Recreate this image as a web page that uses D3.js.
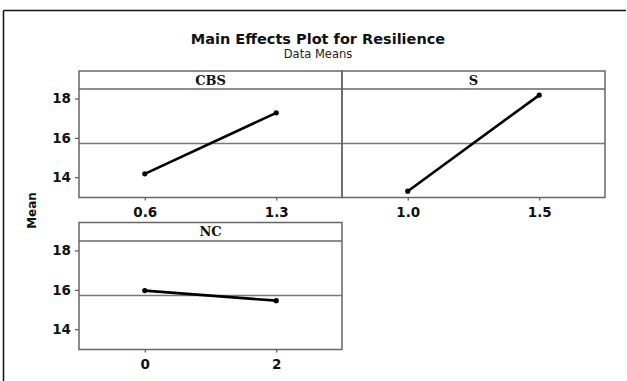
<!DOCTYPE html>
<html>
<head>
<meta charset="utf-8">
<script src="https://cdn.jsdelivr.net/npm/d3@7"></script>
<style>
  html, body { margin: 0; padding: 0; background: #fff; }
  svg { display: block; }
  .tick text { font-family: "DejaVu Sans", sans-serif; font-weight: bold; font-size: 13.5px; fill: #111; }
  .tick line { stroke: #555; stroke-width: 1.2; }
</style>
</head>
<body>
<script>
// Main effects of each factor on Resilience (data means)
const factors = ["CBS", "S", "NC"];
const cbsLevels = ["0.6", "1.3"];
const sLevels = ["1.0", "1.5"];
const ncLevels = ["0", "2"];
const cbsMeans = [14.17, 17.27];
const sMeans = [13.29, 18.17];
const ncMeans = [15.96, 15.45];
const grandMean = 15.71;
const yTicks = [14, 16, 18];
const yDomain = [12.97, 18.48];

const levels = { CBS: cbsLevels, S: sLevels, NC: ncLevels };
const means = { CBS: cbsMeans, S: sMeans, NC: ncMeans };

const W = 627, H = 381;
const svg = d3.select("body").append("svg").attr("width", W).attr("height", H);

// frame: top and left edges only
svg.append("line").attr("x1", 3.5).attr("x2", 626).attr("y1", 10.5).attr("y2", 10.5)
  .attr("stroke", "#111").attr("stroke-width", 1.5);
svg.append("line").attr("x1", 3.5).attr("x2", 3.5).attr("y1", 10.5).attr("y2", H)
  .attr("stroke", "#111").attr("stroke-width", 1.5);

svg.append("text").attr("x", 318).attr("y", 43.5).attr("text-anchor", "middle")
  .style("font-family", "DejaVu Sans, sans-serif").style("font-weight", "bold")
  .style("font-size", "14.5px").attr("fill", "#111")
  .text("Main Effects Plot for Resilience");
svg.append("text").attr("x", 318).attr("y", 57.5).attr("text-anchor", "middle")
  .style("font-family", "DejaVu Sans, sans-serif").style("font-size", "11.5px").attr("fill", "#222")
  .text("Data Means");

svg.append("text")
  .attr("transform", "translate(36,210.5) rotate(-90)")
  .attr("text-anchor", "middle")
  .style("font-family", "DejaVu Sans, sans-serif").style("font-weight", "bold")
  .style("font-size", "12px").attr("fill", "#111")
  .text("Mean");

// panel grid: 2 columns, 2 rows
const cols = [[79, 342], [342, 605]];
const rows = [{ top: 71, head: 89, bottom: 197.5 }, { top: 222.5, head: 241, bottom: 349.5 }];

factors.forEach((f, i) => {
  const [x0, x1] = cols[i % 2];
  const r = rows[Math.floor(i / 2)];
  const x = d3.scalePoint().domain(levels[f]).range([x0, x1]).padding(0.5);
  const y = d3.scaleLinear().domain(yDomain).range([r.bottom, r.head]);
  const g = svg.append("g");

  // y axis only on the left column
  if (i % 2 === 0) {
    g.append("g").attr("transform", `translate(${x0},0)`)
      .call(d3.axisLeft(y).tickValues(yTicks).tickFormat(d3.format("d")).tickSize(4).tickPadding(4))
      .call(a => a.select(".domain").remove());
  }
  g.append("g").attr("transform", `translate(0,${r.bottom})`)
    .call(d3.axisBottom(x).tickSize(3).tickPadding(6.5))
    .call(a => a.select(".domain").remove());

  // grand mean reference
  g.append("line").attr("x1", x0).attr("x2", x1)
    .attr("y1", y(grandMean)).attr("y2", y(grandMean))
    .attr("stroke", "#777").attr("stroke-width", 1.4);

  // strip header and panel box
  g.append("rect").attr("x", x0).attr("y", r.top).attr("width", x1 - x0).attr("height", r.bottom - r.top)
    .attr("fill", "none").attr("stroke", "#666").attr("stroke-width", 1.5);
  g.append("line").attr("x1", x0).attr("x2", x1).attr("y1", r.head).attr("y2", r.head)
    .attr("stroke", "#666").attr("stroke-width", 1.5);
  g.append("text").attr("x", (x0 + x1) / 2).attr("y", (r.top + r.head) / 2 + 4.6)
    .attr("text-anchor", "middle")
    .style("font-family", "DejaVu Serif, serif").style("font-weight", "bold")
    .style("font-size", "13px").attr("fill", "#111")
    .text(f);

  const pts = levels[f].map((l, k) => [x(l), y(means[f][k])]);
  g.append("path").attr("d", d3.line()(pts))
    .attr("fill", "none").attr("stroke", "#000").attr("stroke-width", 2.6);
  g.selectAll("circle.pt").data(pts).enter().append("circle")
    .attr("cx", d => d[0]).attr("cy", d => d[1]).attr("r", 2.6).attr("fill", "#000");
});
</script>
</body>
</html>
